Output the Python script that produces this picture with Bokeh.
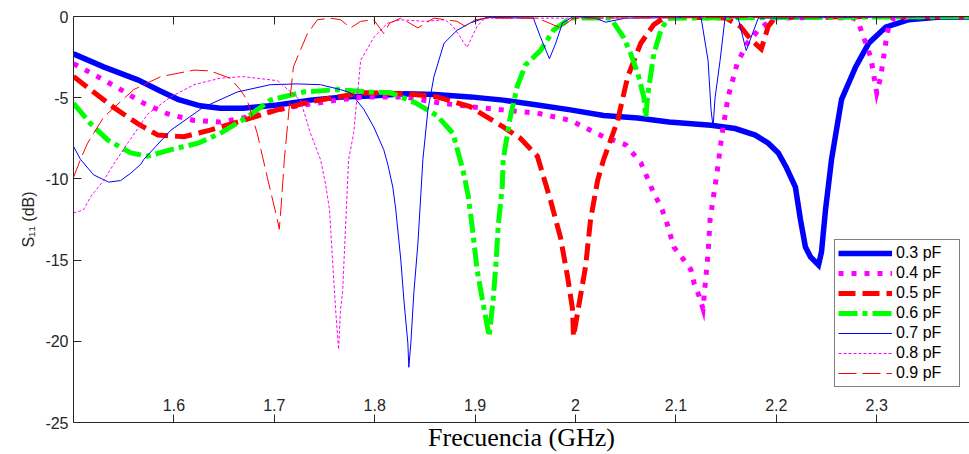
from bokeh.plotting import figure
from bokeh.models import LinearAxis, FixedTicker, Legend, LegendItem, Range1d
from bokeh.embed import file_html
from bokeh.resources import INLINE

# ---- data (frequency in GHz, S11 in dB) ----
f03 = [1.50, 1.53, 1.564, 1.587, 1.604, 1.626, 1.646, 1.669, 1.703, 1.736, 1.769, 1.796, 1.83, 1.86, 1.895, 1.928,
       1.962, 1.995, 2.028, 2.062, 2.093, 2.135, 2.159, 2.179, 2.192, 2.202, 2.210, 2.219, 2.224, 2.229, 2.234,
       2.242, 2.245, 2.249, 2.255, 2.265, 2.279, 2.292, 2.309, 2.332, 2.36, 2.40]
s03 = [-2.3, -3.1, -3.9, -4.6, -5.1, -5.5, -5.65, -5.65, -5.45, -5.15, -4.95, -4.9, -4.75, -4.8, -4.95, -5.15,
       -5.45, -5.75, -6.1, -6.25, -6.5, -6.7, -6.9, -7.3, -7.8, -8.4, -9.3, -10.5, -12.5, -14.2, -14.8,
       -15.3, -14.5, -11.9, -8.8, -5.1, -3.1, -1.65, -0.65, -0.2, -0.05, -0.02]

f04 = [1.50, 1.524, 1.547, 1.57, 1.594, 1.62, 1.646, 1.673, 1.703, 1.729, 1.763, 1.789, 1.83, 1.862, 1.895,
       1.928, 1.962, 1.995, 2.028, 2.05, 2.065, 2.072, 2.078, 2.085, 2.090, 2.098, 2.108, 2.115, 2.118, 2.123,
       2.127, 2.129, 2.132, 2.134, 2.141, 2.146, 2.152, 2.161, 2.171, 2.182, 2.197, 2.25, 2.277, 2.281, 2.294,
       2.300, 2.304, 2.309, 2.312, 2.317, 2.35, 2.40]
s04 = [-2.9, -3.7, -4.5, -5.35, -6.0, -6.4, -6.5, -6.2, -5.75, -5.45, -5.15, -4.95, -4.95, -5.3, -5.55,
       -5.75, -5.95, -6.4, -7.4, -7.9, -9.0, -10.0, -10.9, -11.7, -12.5, -14.2, -15.0, -15.6, -16.4, -17.2,
       -18.0, -16.6, -14.6, -12.5, -9.6, -7.2, -4.95, -2.9, -1.65, -0.85, -0.1, -0.05, -0.1, -0.25, -2.5,
       -4.7, -3.7, -1.6, -0.6, -0.1, 0.0, 0.0]

f05 = [1.50, 1.54, 1.564, 1.584, 1.61, 1.636, 1.669, 1.703, 1.736, 1.763, 1.789, 1.83, 1.862, 1.895, 1.912,
       1.928, 1.945, 1.962, 1.975, 1.985, 1.992, 1.997, 1.998, 2.003, 2.010, 2.015, 2.022, 2.028, 2.042, 2.052,
       2.065, 2.078, 2.088, 2.12, 2.15, 2.164, 2.175, 2.185, 2.192, 2.199, 2.30, 2.40]
s05 = [-3.7, -5.6, -6.6, -7.3, -7.4, -7.0, -6.4, -5.75, -5.25, -4.95, -4.7, -4.75, -4.95, -5.55, -6.2,
       -6.8, -7.5, -8.6, -11.3, -13.6, -16.0, -18.0, -19.7, -17.9, -15.4, -12.5, -10.1, -8.8, -6.4, -3.7,
       -1.65, -0.5, -0.1, -0.05, -0.1, -0.6, -1.45, -2.0, -0.6, -0.05, 0.0, 0.0]

f06 = [1.50, 1.517, 1.534, 1.557, 1.574, 1.597, 1.624, 1.646, 1.673, 1.696, 1.729, 1.763, 1.796, 1.816, 1.84,
       1.862, 1.878, 1.888, 1.893, 1.897, 1.902, 1.908, 1.914, 1.918, 1.921, 1.923, 1.927, 1.928, 1.935, 1.942,
       1.950, 1.965, 1.978, 1.995, 2.035, 2.048, 2.055, 2.062, 2.068, 2.070, 2.072, 2.078, 2.085, 2.092, 2.40]
s06 = [-5.35, -6.6, -7.6, -8.4, -8.6, -8.2, -7.8, -7.2, -6.2, -5.15, -4.65, -4.5, -4.65, -4.7, -5.3,
       -6.1, -7.2, -9.5, -11.0, -12.9, -15.6, -17.7, -19.7, -17.4, -15.0, -12.9, -10.5, -8.8, -6.2, -4.3,
       -3.0, -2.1, -0.85, -0.1, -0.1, -1.3, -2.3, -3.5, -4.95, -6.2, -4.8, -2.3, -0.85, -0.1, 0.0]

f07 = [1.500, 1.507, 1.520, 1.535, 1.547, 1.557, 1.567, 1.570, 1.597, 1.629, 1.663, 1.696, 1.723, 1.746,
       1.766, 1.776, 1.789, 1.799, 1.809, 1.813, 1.818, 1.821, 1.826, 1.829, 1.833, 1.834, 1.836, 1.839,
       1.843, 1.846, 1.848, 1.853, 1.859, 1.869, 1.882, 1.895, 1.912, 1.958, 1.965, 1.974, 1.980, 1.987,
       1.998, 2.02, 2.03, 2.05, 2.125, 2.132, 2.135, 2.137, 2.139, 2.144, 2.149, 2.162, 2.170, 2.182, 2.40]
s07 = [-8.0, -8.8, -9.75, -10.2, -10.1, -9.65, -9.1, -8.8, -7.0, -5.6, -4.65, -4.2, -4.15, -4.2,
       -4.5, -4.7, -5.7, -6.8, -8.2, -9.1, -10.5, -11.9, -15.0, -17.4, -20.1, -21.6, -20.1, -17.0,
       -14.0, -10.9, -8.8, -5.75, -3.7, -1.65, -0.85, -0.4, -0.05, -0.1, -1.25, -2.6, -1.7, -0.4,
       0.0, -0.1, -0.35, -0.1, -0.05, -2.7, -5.75, -6.8, -5.0, -2.7, -0.05, -0.1, -2.1, -0.1, 0.0]

f08 = [1.500, 1.510, 1.517, 1.530, 1.540, 1.554, 1.574, 1.597, 1.620, 1.646, 1.669, 1.696, 1.703, 1.726,
       1.736, 1.746, 1.751, 1.755, 1.758, 1.761, 1.764, 1.766, 1.768, 1.771, 1.774, 1.779, 1.786, 1.799,
       1.813, 1.826, 1.85, 1.87, 1.878, 1.892, 1.902, 1.91, 2.0, 2.40]
s08 = [-12.1, -11.9, -11.1, -10.1, -9.1, -7.8, -6.0, -4.95, -4.2, -3.8, -3.7, -3.9, -3.95, -5.15,
       -7.2, -8.8, -10.3, -11.9, -15.0, -18.0, -20.5, -18.0, -17.0, -12.9, -8.8, -7.2, -2.7, -1.3,
       -0.4, -0.2, -0.3, -0.2, -0.6, -1.9, -0.6, -0.1, -0.1, 0.0]

f09 = [1.500, 1.507, 1.514, 1.530, 1.560, 1.587, 1.620, 1.636, 1.656, 1.666, 1.673, 1.683, 1.693, 1.703,
       1.705, 1.707, 1.710, 1.715, 1.719, 1.733, 1.743, 1.756, 1.766, 1.776, 1.786, 1.799, 1.809, 1.815,
       1.826, 1.843, 1.859, 1.882, 1.890, 1.900, 1.912, 1.962, 1.985, 1.998, 2.40]
s09 = [-9.9, -8.8, -7.8, -6.2, -4.5, -3.7, -3.3, -3.35, -3.8, -4.5, -5.15, -7.2, -9.9, -12.5,
       -13.1, -11.5, -8.8, -5.5, -3.1, -1.05, -0.2, -0.1, -0.2, -0.7, -0.3, -0.2, -1.05, -0.4,
       -0.1, -0.7, -0.1, -0.3, -0.6, -0.2, -0.1, -0.1, -0.7, -0.1, 0.0]

labels = ["0.3 pF", "0.4 pF", "0.5 pF", "0.6 pF", "0.7 pF", "0.8 pF", "0.9 pF"]
x_ticks = [1.6, 1.7, 1.8, 1.9, 2.0, 2.1, 2.2, 2.3]
x_tick_labels = ["1.6", "1.7", "1.8", "1.9", "2", "2.1", "2.2", "2.3"]
y_ticks = [-25, -20, -15, -10, -5, 0]
y_tick_labels = ["-25", "-20", "-15", "-10", "-5", "0"]

series = [(f03, s03), (f04, s04), (f05, s05), (f06, s06), (f07, s07), (f08, s08), (f09, s09)]
styles = [
    dict(line_color="#0000FF", line_width=5.5, line_dash="solid"),
    dict(line_color="#FF00FF", line_width=5, line_dash="5 8"),
    dict(line_color="#FF0000", line_width=5, line_dash="17 7"),
    dict(line_color="#00FF00", line_width=5, line_dash="19 5 5 5"),
    dict(line_color="#0000FF", line_width=1, line_dash="solid"),
    dict(line_color="#FF00FF", line_width=1, line_dash="3 2"),
    dict(line_color="#FF0000", line_width=1, line_dash="18 6"),
]

AX = "#262626"
SANS = "Liberation Sans"

p = figure(width=969, height=454, x_range=Range1d(1.5, 2.3924), y_range=Range1d(-25, 0),
           output_backend="svg", toolbar_location=None,
           min_border_left=73, min_border_right=0, min_border_top=16, min_border_bottom=31)
p.grid.visible = False
p.outline_line_color = None
p.background_fill_color = "white"
p.border_fill_color = "white"

# left axis
ya = p.yaxis[0]
ya.ticker = FixedTicker(ticks=y_ticks)
ya.major_label_overrides = dict(zip(y_ticks, y_tick_labels))
ya.major_tick_in = 8
ya.major_tick_out = 0
ya.minor_tick_line_color = None
ya.axis_line_color = AX
ya.major_tick_line_color = AX
ya.major_label_text_font = SANS
ya.major_label_text_font_size = "16px"
ya.major_label_text_color = AX
ya.major_label_standoff = 5
ya.axis_label = "S\u2081\u2081 (dB)"
ya.axis_label_text_font = SANS
ya.axis_label_text_font_size = "16px"
ya.axis_label_text_font_style = "normal"
ya.axis_label_text_color = AX
ya.axis_label_standoff = 5

# bottom axis (tick labels drawn inside the frame)
xa = p.xaxis[0]
xa.ticker = FixedTicker(ticks=x_ticks)
xa.major_label_overrides = dict(zip(x_ticks, x_tick_labels))
xa.major_tick_in = 8
xa.major_tick_out = 0
xa.minor_tick_line_color = None
xa.axis_line_color = AX
xa.major_tick_line_color = AX
xa.major_label_text_font = SANS
xa.major_label_text_font_size = "16px"
xa.major_label_text_color = AX
xa.major_label_standoff = -24
xa.axis_label = "Frecuencia (GHz)"
xa.axis_label_text_font = "Liberation Serif"
xa.axis_label_text_font_size = "26px"
xa.axis_label_text_font_style = "normal"
xa.axis_label_text_color = "black"
xa.axis_label_standoff = 9

# top axis (ticks only)
top = LinearAxis(ticker=FixedTicker(ticks=x_ticks), major_tick_in=8, major_tick_out=0,
                 minor_tick_line_color=None, axis_line_color=AX, major_tick_line_color=AX,
                 major_label_text_font_size="1px", major_label_text_color=None, major_label_standoff=0)
p.add_layout(top, "above")

items = []
for (fx, sy), st, lab in zip(series, styles, labels):
    r = p.line(fx, sy, line_cap="butt", line_join="miter", **st)
    items.append(LegendItem(label=lab, renderers=[r]))

legend = Legend(items=items, location=(761, 35), orientation="vertical",
                border_line_color="black", border_line_width=1, background_fill_color="white",
                background_fill_alpha=1.0, padding=3, margin=0, spacing=0,
                label_height=20, glyph_height=20, glyph_width=54, label_standoff=4, label_width=60,
                label_text_font=SANS, label_text_font_size="16px", label_text_color="black")
p.add_layout(legend, "center")

open("out.html", "w").write(file_html(p, INLINE))
